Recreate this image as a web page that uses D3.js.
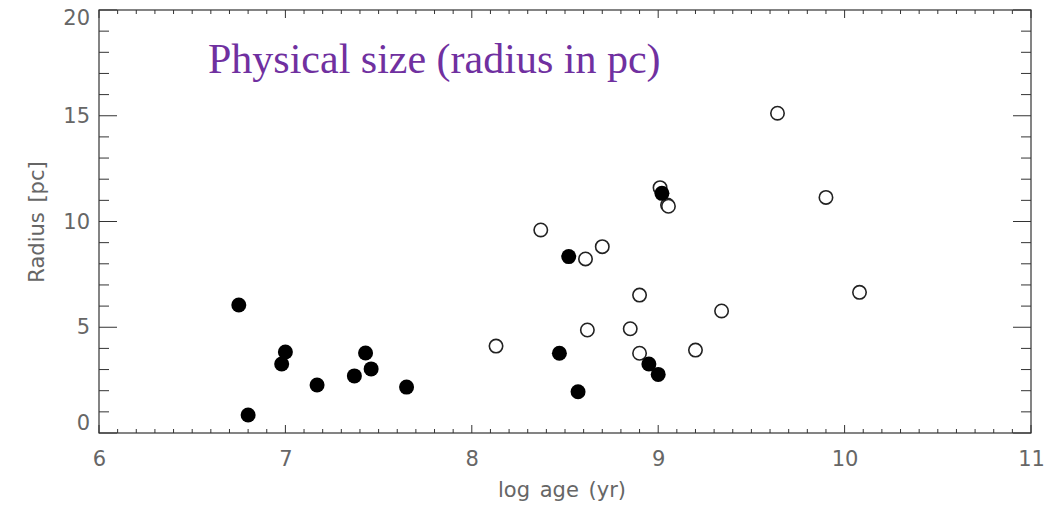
<!DOCTYPE html>
<html><head><meta charset="utf-8">
<script src="https://cdn.jsdelivr.net/npm/d3@7"></script>
<style>body{margin:0;background:#fff}svg{display:block}</style>
</head><body>
<svg id="c" width="1048" height="506"></svg>
<script>
const openAge = [8.13, 8.37, 8.61, 8.62, 8.70, 8.85, 8.90, 8.90, 9.01, 9.05, 9.055, 9.20, 9.34, 9.64, 9.90, 10.08];
const openRadius = [4.11, 9.60, 8.23, 4.87, 8.81, 4.93, 6.52, 3.77, 11.60, 10.78, 10.72, 3.92, 5.77, 15.12, 11.14, 6.65];
const filledAge = [6.75, 6.80, 6.98, 7.00, 7.17, 7.37, 7.43, 7.46, 7.65, 8.47, 8.52, 8.57, 8.95, 9.00, 9.02];
const filledRadius = [6.05, 0.85, 3.26, 3.83, 2.27, 2.70, 3.78, 3.03, 2.17, 3.77, 8.34, 1.95, 3.26, 2.77, 11.33];
const xTicks = [6, 7, 8, 9, 10, 11];
const yTicks = [0, 5, 10, 15, 20];
const titleText = "Physical size (radius in pc)";
const xLabel = "log age (yr)";
const yLabel = "Radius [pc]";

const svg = d3.select("#c");
const L = 99, R = 1031, T = 10, B = 433;
const x = d3.scaleLinear().domain([6, 11]).range([L, R]);
const y = d3.scaleLinear().domain([0, 20]).range([B, T]);
const axisColor = "#333";
const textColor = "#666";
const font = "DejaVu Sans, sans-serif";

const xMinor = d3.range(6, 11.0001, 0.1).map(v => +v.toFixed(1));
const yMinor = d3.range(0, 20.0001, 1);
const g = svg.append("g");

const bottom = d3.axisBottom(x).tickValues(xTicks).tickFormat(d3.format("d")).tickSize(0).tickPadding(18);
const gb = svg.append("g").attr("transform", `translate(0,${B})`).call(bottom);
gb.select(".domain").remove();
gb.selectAll("text").attr("font-family", font).attr("font-size", 21).attr("fill", textColor);

const left = d3.axisLeft(y).tickValues(yTicks).tickFormat(d3.format("d")).tickSize(0).tickPadding(9);
const gl = svg.append("g").attr("transform", `translate(${L},0)`).call(left);
gl.select(".domain").remove();
gl.selectAll("text").attr("font-family", font).attr("font-size", 21).attr("fill", textColor)
  .attr("dy", d => d === 0 ? "-0.15em" : d === 20 ? "0.7em" : "0.32em");

xMinor.forEach(v => {
  const major = Math.abs(v - Math.round(v)) < 1e-6;
  const len = major ? 8 : 4;
  g.append("line").attr("x1", x(v)).attr("x2", x(v)).attr("y1", B).attr("y2", B - len)
    .attr("stroke", axisColor).attr("stroke-width", 1);
  g.append("line").attr("x1", x(v)).attr("x2", x(v)).attr("y1", T).attr("y2", T + len)
    .attr("stroke", axisColor).attr("stroke-width", 1);
});
yMinor.forEach(v => {
  const major = v % 5 === 0;
  const len = major ? 18 : 10;
  g.append("line").attr("x1", L).attr("x2", L + len).attr("y1", y(v)).attr("y2", y(v))
    .attr("stroke", axisColor).attr("stroke-width", 1);
  g.append("line").attr("x1", R).attr("x2", R - len).attr("y1", y(v)).attr("y2", y(v))
    .attr("stroke", axisColor).attr("stroke-width", 1);
});
g.append("rect").attr("x", L).attr("y", T).attr("width", R - L).attr("height", B - T)
  .attr("fill", "none").attr("stroke", axisColor).attr("stroke-width", 1.2);

svg.append("text").attr("x", 562).attr("y", 497).attr("text-anchor", "middle")
  .attr("font-family", font).attr("font-size", 21).attr("fill", textColor).attr("word-spacing", 3).text(xLabel);
svg.append("text").attr("transform", `translate(44,222) rotate(-90)`).attr("text-anchor", "middle")
  .attr("font-family", font).attr("font-size", 21).attr("fill", textColor).attr("word-spacing", 3).text(yLabel);

svg.append("text").attr("x", 208).attr("y", 73).attr("font-family", "Liberation Serif, Times New Roman, serif")
  .attr("font-size", 42).attr("fill", "#7030A0").text(titleText);

const openData = openAge.map((a, i) => ({a, r: openRadius[i]}));
const filledData = filledAge.map((a, i) => ({a, r: filledRadius[i]}));
svg.append("g").selectAll("circle").data(openData).join("circle")
  .attr("cx", d => x(d.a)).attr("cy", d => y(d.r)).attr("r", 6.7)
  .attr("fill", "#fff").attr("stroke", "#222").attr("stroke-width", 1.6);
svg.append("g").selectAll("circle").data(filledData).join("circle")
  .attr("cx", d => x(d.a)).attr("cy", d => y(d.r)).attr("r", 7.5)
  .attr("fill", "#000");
</script>
</body></html>
